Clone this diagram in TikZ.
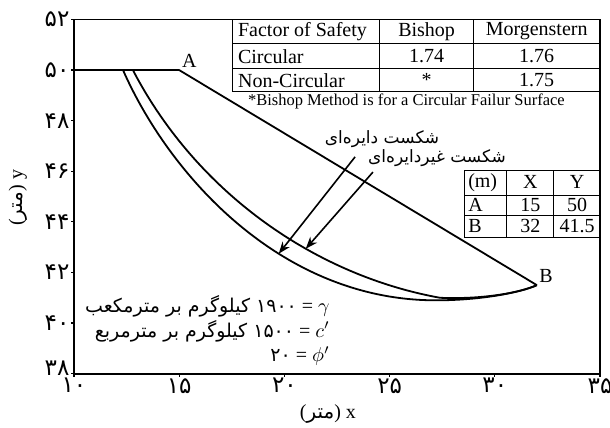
\documentclass[tikz,border=0pt]{standalone}
\usepackage{fontspec}
\setmainfont{Liberation Serif}
\newfontfamily\persianfont[Script=Arabic]{DejaVu Sans}
\TeXXeTstate=1
\usetikzlibrary{arrows.meta,positioning}

\begin{document}
\begin{tikzpicture}[x=10.52pt, y=12.65pt, >={Stealth[length=6pt,width=4.5pt]},
    font=\fontsize{10}{12}\selectfont,
    axisline/.style={line width=1pt},
    frameline/.style={line width=0.6pt},
    slipline/.style={line width=0.9pt, line join=round},
    gridline/.style={line width=0.45pt},
    fa/.style={font=\persianfont\fontsize{8.5}{10}\selectfont},
    ticklabel/.style={font=\persianfont\fontsize{11.5}{13}\selectfont, inner sep=0pt}]

  \useasboundingbox (6.483,35.893) rectangle (35.475,52.771);

  % axes and frame
  \draw[frameline] (10,52) -- (35,52) -- (35,38);
  \draw[axisline] (10,52) -- (10,38) -- (35,38);
  \foreach \v/\lab/\dy in {38/۳۸/2.5,40/۴۰/0,42/۴۲/0,44/۴۴/0,46/۴۶/0,48/۴۸/0,50/۵۰/0,52/۵۲/0}
    \draw[line width=0.6pt] (10,\v) -- ++(-1.5pt,0)
      node[ticklabel, anchor=east, xshift=-0.5pt, yshift=\dy pt] (ytick\v) {\lab};
  \foreach \v/\lab in {10/۱۰,15/۱۵,20/۲۰,25/۲۵,30/۳۰,35/۳۵}
    \draw[line width=0.6pt] (\v,38) -- ++(0,-1.5pt)
      node[ticklabel, anchor=north, yshift=-0.5pt] (xtick\v) {\lab};
  \node[rotate=90] (ytitle) at (7.34,44.95) {({\persianfont متر}) y};
  \node (xtitle) at (22.07,36.41) {({\persianfont متر}) x};

  % slope profile
  \coordinate (A) at (15,50);
  \coordinate (B) at (32,41.5);
  \draw[slipline] (10,50) -- (A) -- (B);
  \node[anchor=south west, inner sep=1.2pt] (labA) at (A) {A};
  \node[anchor=south west, inner sep=1pt] (labB) at (B) {B};

  % circular failure surface
  \draw[slipline] (12.33,50) .. controls (14.5,45.9) and (19.8,40.9)
    .. coordinate[pos=0.62] (circTip) (27.2,40.9)
    .. controls (29.3,40.9) and (31.2,41.2) .. (B);
  % non-circular failure surface
  \draw[slipline] (12.8,50) .. controls (15.8,45.2) and (21.4,41.9)
    .. coordinate[pos=0.63] (noncircTip) (27.4,41.0)
    .. controls (29.4,40.93) and (31.2,41.2) .. (B);

  % labels with arrows
  \node[fa] (circ) at (24.64,47.28) {\beginR شکست دایره‌ای\endR};
  \node[fa] (noncirc) at (27.25,46.53) {\beginR شکست غیردایره‌ای\endR};
  \coordinate (circTail) at (23.36,46.57);
  \coordinate (noncircTail) at (24.21,45.97);
  \draw[->, line width=0.8pt] (circTail) -- (circTip);
  \draw[->, line width=0.8pt] (noncircTail) -- (noncircTip);

  % safety factor table
  \draw[gridline] (17.54,52) rectangle (35,49.15);
  \draw[gridline] (17.54,51.05) -- (35,51.05) (17.54,50.05) -- (35,50.05);
  \draw[gridline] (24.54,52) -- (24.54,49.15) (28.98,52) -- (28.98,49.15);
  \node[anchor=west, inner sep=0pt] (fosHead) at (17.78,51.53) {Factor of Safety};
  \node (bishopHead) at (26.76,51.53) {Bishop};
  \node (morgHead) at (31.99,51.53) {Morgenstern};
  \node[anchor=west, inner sep=0pt] (circRow) at (17.78,50.55) {Circular};
  \node (circBishop) at (26.76,50.55) {1.74};
  \node (circMorg) at (31.99,50.55) {1.76};
  \node[anchor=west, inner sep=0pt] (noncircRow) at (17.78,49.60) {Non-Circular};
  \node (noncircBishop) at (26.76,49.60) {*};
  \node (noncircMorg) at (31.99,49.60) {1.75};
  \node[font=\fontsize{8.25}{10}\selectfont] (note) at (25.80,48.78)
    {*Bishop Method is for a Circular Failur Surface};

  % coordinates table
  \draw[gridline] (28.58,46.05) rectangle (35,43.40);
  \draw[gridline] (28.58,45.06) -- (35,45.06) (28.58,44.27) -- (35,44.27);
  \draw[gridline] (30.57,46.05) -- (30.57,43.40) (32.81,46.05) -- (32.81,43.40);
  \node[anchor=west, inner sep=0pt] (unitHead) at (28.72,45.56) {(m)};
  \node (xHead) at (31.69,45.56) {X};
  \node (yHead) at (33.91,45.56) {Y};
  \node[anchor=west, inner sep=0pt] (ptA) at (28.72,44.67) {A};
  \node (ptAx) at (31.69,44.67) {15};
  \node (ptAy) at (33.91,44.67) {50};
  \node[anchor=west, inner sep=0pt] (ptB) at (28.72,43.84) {B};
  \node (ptBx) at (31.69,43.84) {32};
  \node (ptBy) at (33.91,43.84) {41.5};

  % soil parameters
  \node[anchor=east, inner sep=0pt] (gammaLine) at (22.17,40.68)
    {{\persianfont\fontsize{9.5}{11}\selectfont\beginR ۱۹۰۰ کیلوگرم بر مترمکعب\endR} = $\gamma$};
  \node[anchor=east, inner sep=0pt] (cohLine) at (22.17,39.69)
    {{\persianfont\fontsize{9.5}{11}\selectfont\beginR ۱۵۰۰ کیلوگرم بر مترمربع\endR} = $c'$};
  \node[anchor=east, inner sep=0pt] (phiLine) at (22.17,38.70)
    {{\persianfont\fontsize{9.5}{11}\selectfont ۲۰} = $\phi'$};

\end{tikzpicture}
\end{document}
